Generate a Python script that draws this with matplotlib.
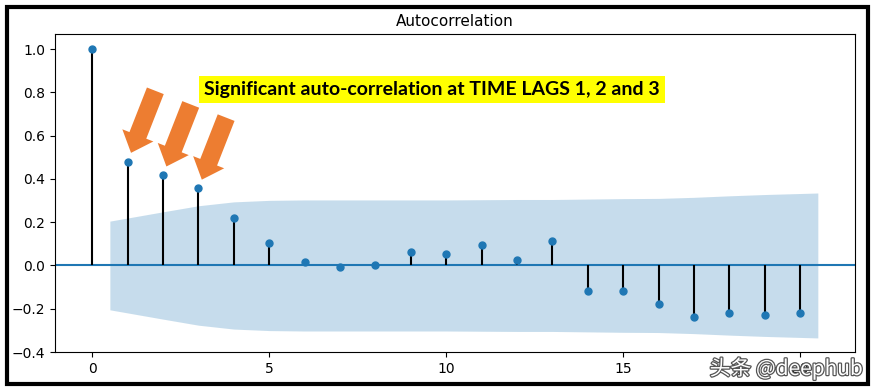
import matplotlib
matplotlib.use("Agg")
import matplotlib.pyplot as plt
import matplotlib.patheffects as pe
from matplotlib.patches import Rectangle
import numpy as np

plt.rcParams["font.family"] = ["DejaVu Sans"]

# ---- data ----
lags = list(range(21))
acf_values = [1.0, 0.48, 0.417, 0.356, 0.218, 0.106, 0.014, -0.005, 0.0, 0.06,
              0.051, 0.094, 0.025, 0.114, -0.116, -0.12, -0.176, -0.24, -0.218,
              -0.227, -0.222]
# confidence band half-width for lags 1..20 (band drawn from 0.5 to 20.5)
band_x = [0.5, 2, 3, 4, 5, 6, 7, 8, 9, 10, 11, 12, 13, 14, 15, 16, 17, 18, 19, 20.5]
band_half = [0.205, 0.248, 0.276, 0.294, 0.301, 0.303, 0.303, 0.303, 0.303, 0.303,
             0.304, 0.305, 0.305, 0.307, 0.309, 0.310, 0.315, 0.322, 0.328, 0.335]
highlight_lags = [1, 2, 3]
annotation_text = "Significant auto-correlation at TIME LAGS 1, 2 and 3"
title = "Autocorrelation"
watermark = "头条 @deephub"

W, H = 875, 391
fig = plt.figure(figsize=(W / 100, H / 100), dpi=100)
ax = fig.add_axes([55 / W, (H - 352) / H, 800 / W, 318 / H])

band_x_arr = np.array(band_x)
band_arr = np.array(band_half)
ax.fill_between(band_x_arr, -band_arr, band_arr, color="C0", alpha=0.25, linewidth=0)
ax.axhline(0, color="C0", linewidth=1.5, zorder=1)
ax.vlines(lags, 0, acf_values, colors="black", linewidth=1.5, zorder=2)
ax.plot(lags, acf_values, "o", color="C0", markersize=5, zorder=3)

ax.set_xlim(-1.05, 21.55)
ax.set_ylim(-0.4, 1.07)
ax.set_xticks([0, 5, 10, 15, 20])
ax.set_yticks([-0.4, -0.2, 0.0, 0.2, 0.4, 0.6, 0.8, 1.0])
ax.tick_params(labelsize=10)
ax.set_title(title, fontsize=11)

# highlighted annotation text
ax.text(9.6, 0.815, annotation_text, ha="center", va="center",
        fontsize=14, fontweight="bold", family=["Lato", "DejaVu Sans"], color="black",
        bbox=dict(facecolor="#FFFF00", edgecolor="none", pad=3.5), zorder=5)

# orange arrows pointing to lags 1, 2, 3
for k in highlight_lags:
    ax.annotate("", xy=(lags[k], acf_values[k]), xycoords="data",
                xytext=(20, 51), textcoords="offset points",
                arrowprops=dict(arrowstyle="simple,head_length=1.35,head_width=2.4,tail_width=1.3",
                                mutation_scale=10, facecolor="#ED7D31", edgecolor="none",
                                shrinkA=0, shrinkB=6.8),
                zorder=6)

# watermark
fig.text(863 / W, (H - 375) / H, watermark, ha="right", va="baseline",
         fontsize=15, family=["Noto Sans CJK SC", "DejaVu Sans"], color="white",
         path_effects=[pe.Stroke(linewidth=1.8, foreground="#555555"), pe.Normal()],
         zorder=10)

# black frame around figure
fig.patches.append(Rectangle((7 / W, (H - 383.5) / H), 861 / W, 376.5 / H,
                             transform=fig.transFigure, fill=False,
                             edgecolor="black", linewidth=3, zorder=20))

fig.savefig("out.png", dpi=100)
